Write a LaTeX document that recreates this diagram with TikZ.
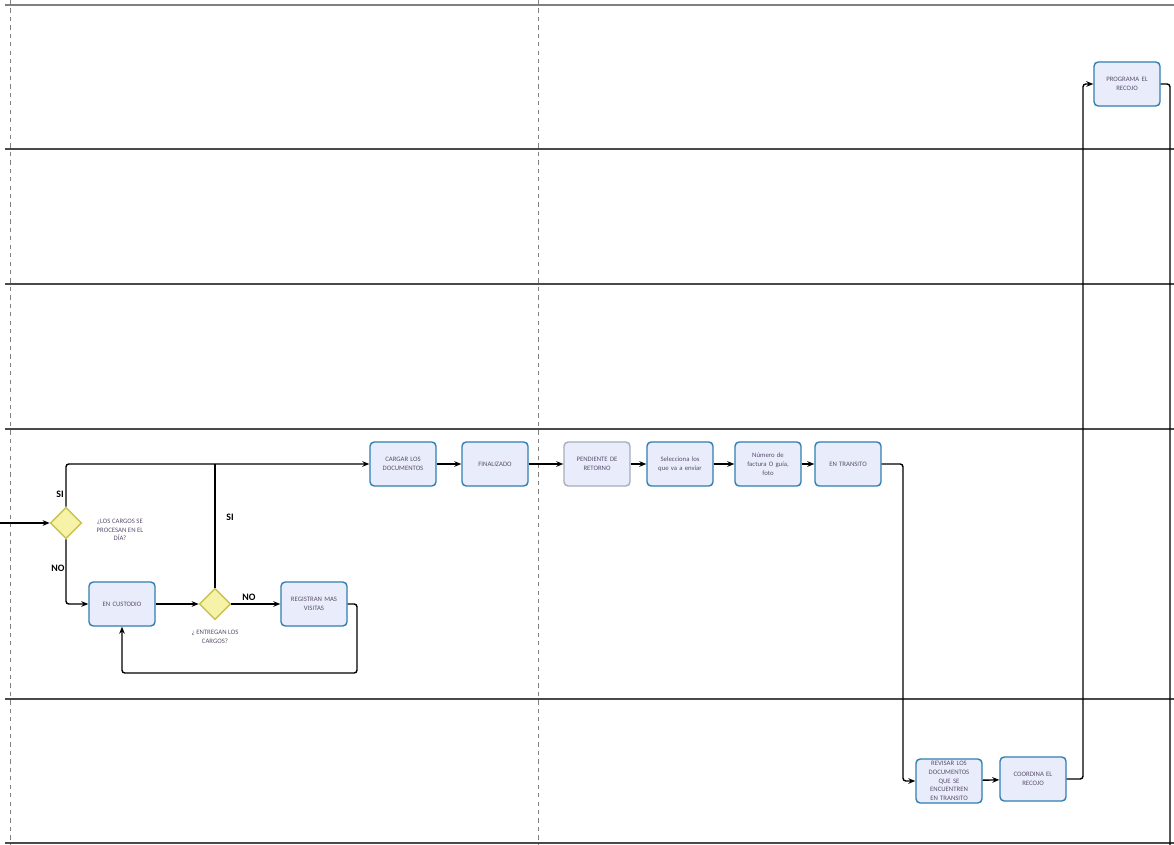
\documentclass[tikz,border=0pt]{standalone}
\usepackage{fontspec}
\setmainfont{Carlito}
\usetikzlibrary{shapes.geometric,arrows.meta}

\definecolor{bordetarea}{HTML}{2F7FB0}
\definecolor{rellenotarea}{HTML}{E9EDFB}
\definecolor{bordegris}{HTML}{A8ADBA}
\definecolor{bordedecision}{HTML}{C8C24E}
\definecolor{rellenodecision}{HTML}{F6F2A8}
\definecolor{textotarea}{HTML}{5A4E6E}
\definecolor{carril}{HTML}{4A4A4A}

\begin{document}
\begin{tikzpicture}[
		x=0.025cm, y=-0.025cm,
		>={Stealth[length=5pt,width=4pt]},
		tarea/.style={rectangle,rounded corners=3pt,draw=bordetarea,line width=1pt,fill=rellenotarea,
			minimum width=1.65cm,minimum height=1.1cm,text width=1.5cm,align=center,
			font=\fontsize{4.8}{6.2}\selectfont,text=textotarea,inner sep=1pt},
		tareagris/.style={tarea,draw=bordegris},
		decision/.style={diamond,aspect=1,draw=bordedecision,line width=1pt,fill=rellenodecision,
			minimum size=0.78cm,inner sep=0pt},
		nota/.style={align=center,font=\fontsize{4.8}{6.2}\selectfont,text=textotarea},
		rama/.style={font=\bfseries\fontsize{7}{8}\selectfont},
		flujo/.style={->,line width=1pt,rounded corners=2pt},
		linea/.style={line width=1pt,rounded corners=2pt}
		]
		\useasboundingbox (0,0) rectangle (1174,845);
		% carriles
		\draw[gray,line width=1.6pt] (5,5) -- (1174,5);
		\foreach \y in {149,284,429,699,843}
		\draw[carril,line width=0.9pt] (5,\y) -- (1174,\y);
		\draw[gray,dashed,line width=0.7pt] (10,0) -- (10,845);
		\draw[gray,dashed,line width=0.7pt] (538,0) -- (538,845);
		
		% nodos
		\node[tarea] (programa) at (1127,84) {PROGRAMA EL\\RECOJO};
		\node[tarea] (cargar) at (403,464) {CARGAR LOS\\DOCUMENTOS};
		\node[tarea] (finalizado) at (495,464) {FINALIZADO};
		\node[tareagris] (pendiente) at (597,464) {PENDIENTE DE\\RETORNO};
		\node[tarea] (selecciona) at (680,464) {Selecciona los\\que va a enviar};
		\node[tarea] (numero) at (768,464) {Número de\\factura O guía,\\foto};
		\node[tarea] (transito) at (848,464) {EN TRANSITO};
		\node[tarea] (custodio) at (122,604) {EN CUSTODIO};
		\node[tarea] (registran) at (314,604) {REGISTRAN MAS\\VISITAS};
		\node[tarea] (revisar) at (949,781) {REVISAR LOS\\DOCUMENTOS\\QUE SE\\ENCUENTREN\\EN TRANSITO};
		\node[tarea] (coordina) at (1033,779) {COORDINA EL\\RECOJO};
		\node[decision] (procesan) at (66,523) {};
		\node[decision] (entregan) at (215,604) {};
		\node[nota] (notaprocesan) at (120,530) {¿LOS CARGOS SE\\PROCESAN EN EL\\DÍA?};
		\node[nota] (notaentregan) at (215,637) {¿ ENTREGAN LOS\\CARGOS?};
		\node[rama] (si1) at (60,494) {SI};
		\node[rama] (no1) at (58,568) {NO};
		\node[rama] (si2) at (230,517) {SI};
		\node[rama] (no2) at (249,597) {NO};
		
		\coordinate (entrada) at (0,523);
		\coordinate (vuelta) at (357,673);
		\coordinate (bajada) at (903,464);
		\coordinate (subida) at (1083,779);
		\coordinate (salida) at (1170,845);
		
		% conectores
		\draw[flujo] (entrada) -- (procesan.west);
		\draw[flujo] (procesan.north) |- (cargar.west);
		\draw[flujo] (procesan.south) |- (custodio.west);
		\draw[flujo] (custodio) -- (entregan);
		\draw[linea] (entregan.north) -- (entregan.north |- cargar.west);
		\draw[flujo] (entregan) -- (registran);
		\draw[flujo] (registran.east) -| (vuelta) -| (custodio.south);
		\draw[flujo] (cargar) -- (finalizado);
		\draw[flujo] (finalizado) -- (pendiente);
		\draw[flujo] (pendiente) -- (selecciona);
		\draw[flujo] (selecciona) -- (numero);
		\draw[flujo] (numero) -- (transito);
		\draw[flujo] (transito.east) -- (bajada) |- (revisar.west);
		\draw[flujo] (revisar) -- (coordina);
		\draw[flujo] (coordina.east) -- (subida) |- (programa.west);
		\draw[linea] (programa.east) -| (salida);
\end{tikzpicture}
\end{document}
